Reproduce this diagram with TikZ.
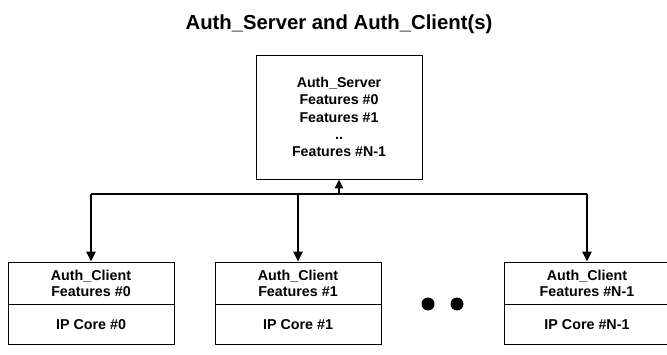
\documentclass[tikz,border=0pt]{standalone}
\usepackage{fontspec}
\setmainfont{Liberation Sans}
\usetikzlibrary{arrows.meta,positioning}

\tikzset{
  box/.style={draw=black, line width=0.9pt, fill=white, inner sep=0pt,
    align=center, font=\bfseries\fontsize{14.3}{16}\selectfont},
  serverbox/.style={box, minimum width=166pt, minimum height=124pt,
    font=\bfseries\fontsize{14.2}{17.3}\selectfont},
  clienttop/.style={box, minimum width=166pt, minimum height=42pt},
  clientbot/.style={box, minimum width=166pt, minimum height=40pt},
  link/.style={line width=1.5pt, -{Triangle[length=10pt,width=9.5pt]}},
  uplink/.style={line width=1.5pt, -{Triangle[length=9pt,width=8.5pt]}},
  wire/.style={line width=1.5pt},
  dot/.style={circle, fill=black, minimum size=13pt, inner sep=0pt}
}

\begin{document}
\begin{tikzpicture}[x=1pt, y=-1pt]
\useasboundingbox (0,0) rectangle (667,355);

% title
\node[font=\bfseries\fontsize{20.3}{24}\selectfont] (title) at (339,24)
  {Auth\_Server and Auth\_Client(s)};

% server
\node[serverbox] (server) at (339,117)
  {Auth\_Server\\Features \#0\\Features \#1\\..\\Features \#N-1};

% clients: feature part on top, IP core part below
\node[clienttop] (c0) at (91,283) {Auth\_Client\\Features \#0};
\node[clientbot, below=0pt of c0] (p0) {IP Core \#0};

\node[clienttop] (c1) at (298,283) {Auth\_Client\\Features \#1};
\node[clientbot, below=0pt of c1] (p1) {IP Core \#1};

\node[clienttop] (c2) at (587,283) {Auth\_Client\\Features \#N-1};
\node[clientbot, below=0pt of c2] (p2) {IP Core \#N-1};

% ellipsis dots
\node[dot] (d1) at (428,304) {};
\node[dot] (d2) at (457,304) {};

% bus below the server
\coordinate (hub) at (339,194);
\coordinate (busL) at (c0.north |- hub);
\coordinate (busR) at (c2.north |- hub);
\draw[wire] (busL) -- (busR);
\draw[uplink] (hub) -- (server.south);
\draw[link] (busL) -- (c0.north);
\draw[link] (c1.north |- hub) -- (c1.north);
\draw[link] (busR) -- (c2.north);
\end{tikzpicture}
\end{document}
